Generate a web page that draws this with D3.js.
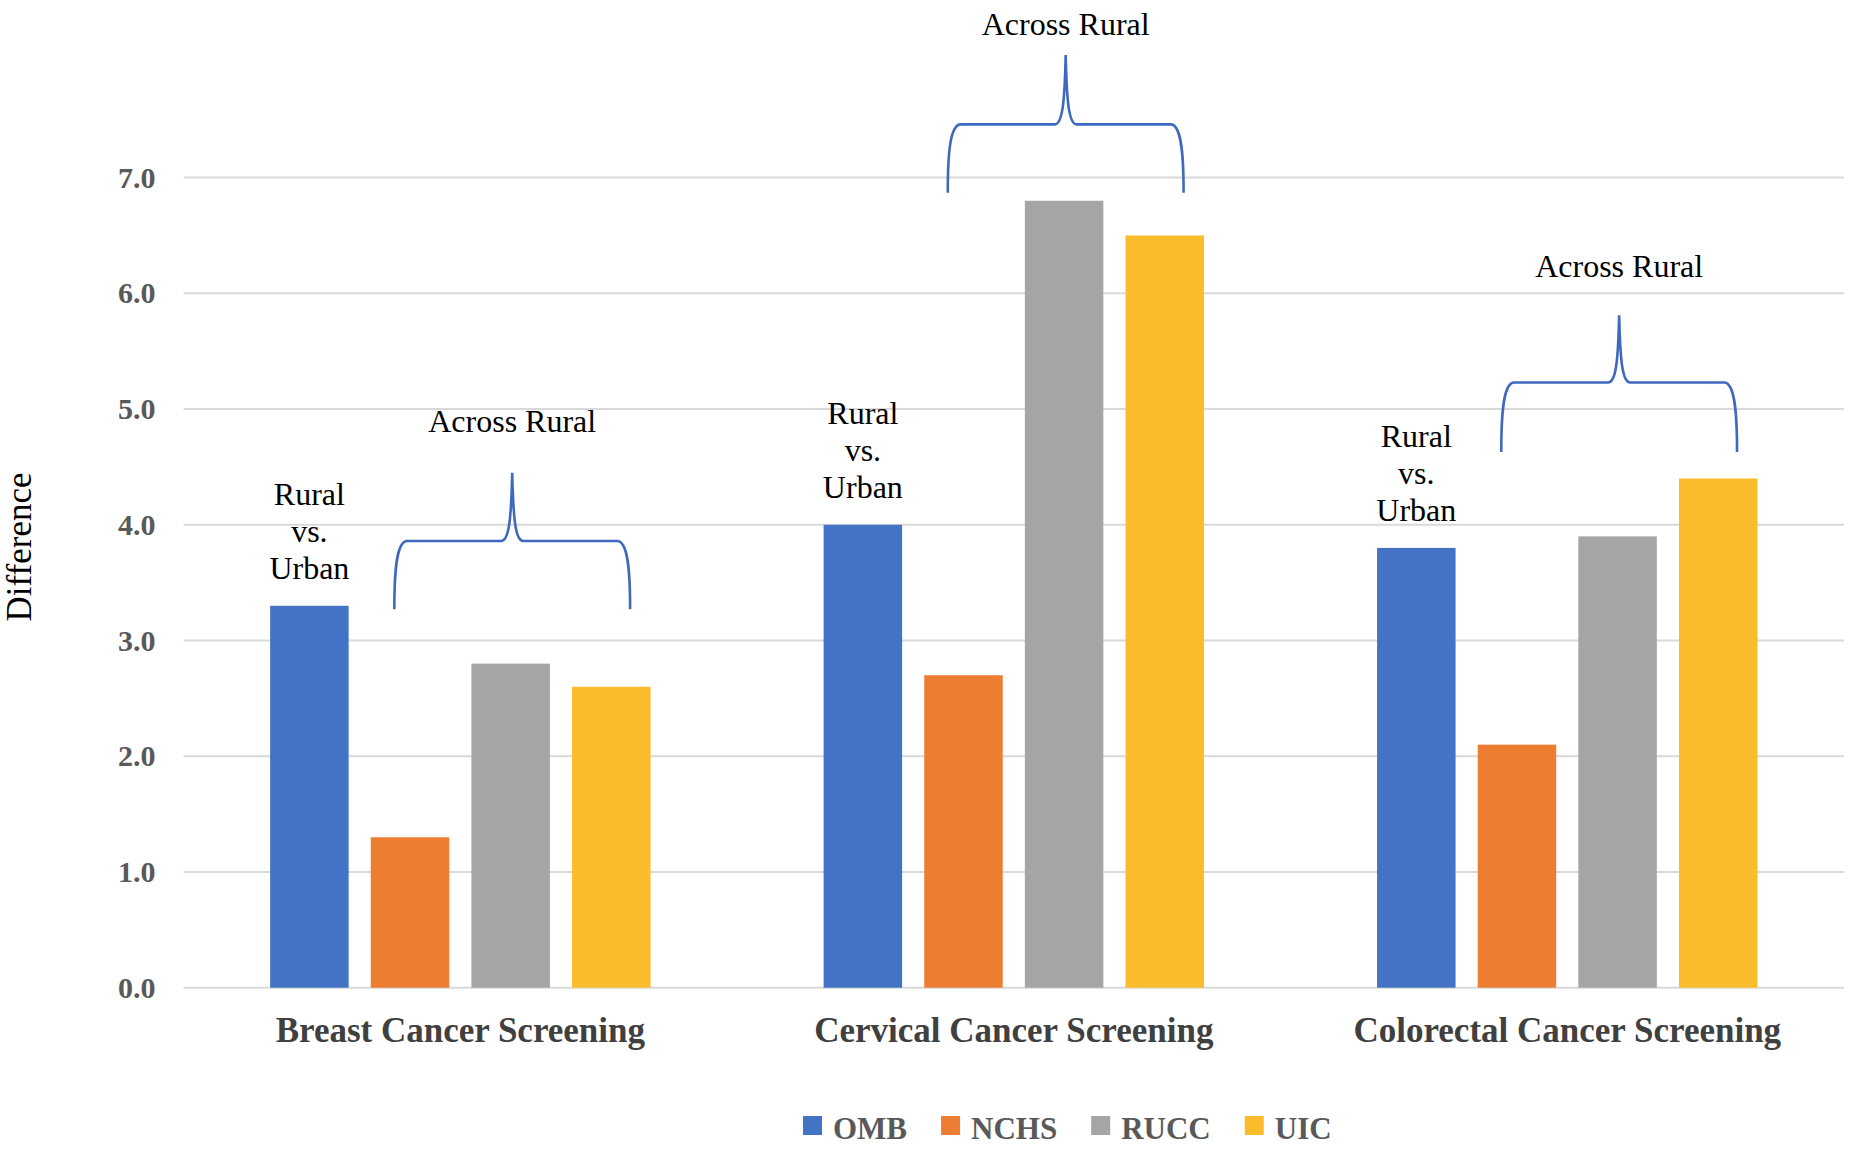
<!DOCTYPE html>
<html>
<head>
<meta charset="utf-8">
<script src="https://cdn.jsdelivr.net/npm/d3@7"></script>
<style>
  html, body { margin: 0; padding: 0; background: #ffffff; }
  svg { display: block; }
</style>
</head>
<body>
<svg id="chart" width="1857" height="1161"></svg>
<script>
// ---------- data ----------
const categories = ["Breast Cancer Screening", "Cervical Cancer Screening", "Colorectal Cancer Screening"];
const seriesNames = ["OMB", "NCHS", "RUCC", "UIC"];
const OMB  = [3.3, 4.0, 3.8];
const NCHS = [1.3, 2.7, 2.1];
const RUCC = [2.8, 6.8, 3.9];
const UIC  = [2.6, 6.5, 4.4];
const yTicks = [0, 1, 2, 3, 4, 5, 6, 7];
const yTitle = "Difference";
const ruralUrbanLines = ["Rural", "vs.", "Urban"];
const acrossLabel = "Across Rural";
// brace annotation levels (in data units): foot, shoulder, tip, label baseline
const braceFoot     = [3.27, 6.87, 4.63];
const braceShoulder = [3.86, 7.46, 5.23];
const braceTip      = [4.45, 8.06, 5.81];
const braceLabel    = [4.80, 8.23, 6.14];

const seriesValues = { OMB, NCHS, RUCC, UIC };
const colors = { OMB: "#4472C4", NCHS: "#ED7D31", RUCC: "#A5A5A5", UIC: "#FBBC2C" };

// ---------- layout ----------
const W = 1857, H = 1161;
const plot = { left: 183.6, right: 1844, top: 177.6, bottom: 987.7 };
const svg = d3.select("#chart");

const x0 = d3.scaleBand().domain(categories).range([plot.left, plot.right]).padding(0);
const x1 = d3.scaleBand().domain(seriesNames).range([0, x0.bandwidth()])
  .paddingInner(0.22).paddingOuter(0.86);
const y = d3.scaleLinear().domain([0, 7]).range([plot.bottom, plot.top]);

// gridlines
svg.append("g").selectAll("line").data(yTicks).join("line")
  .attr("x1", plot.left).attr("x2", plot.right)
  .attr("y1", d => y(d)).attr("y2", d => y(d))
  .attr("stroke", "#D9D9D9").attr("stroke-width", 2);

// y axis labels
const yAxis = d3.axisLeft(y).tickValues(yTicks).tickSize(0).tickPadding(28)
  .tickFormat(d3.format(".1f"));
const gy = svg.append("g").attr("transform", `translate(${plot.left},0)`).call(yAxis);
gy.select(".domain").remove();
gy.selectAll("text")
  .attr("font-family", "'Liberation Serif', serif").attr("font-weight", "bold")
  .attr("font-size", 30).attr("fill", "#595959");

// y title
svg.append("text")
  .attr("transform", `translate(31,547) rotate(-90)`)
  .attr("text-anchor", "middle")
  .attr("font-family", "'Liberation Serif', serif").attr("font-size", 35)
  .attr("fill", "#000").text(yTitle);

// bars
const groups = svg.append("g").selectAll("g").data(categories).join("g")
  .attr("transform", d => `translate(${x0(d)},0)`);
groups.selectAll("rect")
  .data((c, i) => seriesNames.map(s => ({ s, v: seriesValues[s][i] })))
  .join("rect")
  .attr("x", d => x1(d.s)).attr("width", x1.bandwidth())
  .attr("y", d => y(d.v)).attr("height", d => y(0) - y(d.v))
  .attr("fill", d => colors[d.s]);

// x axis labels
const xAxis = d3.axisBottom(x0).tickSize(0).tickPadding(29.5);
const gx = svg.append("g").attr("transform", `translate(0,${plot.bottom})`).call(xAxis);
gx.select(".domain").remove();
gx.selectAll("text")
  .attr("font-family", "'Liberation Serif', serif").attr("font-weight", "bold")
  .attr("font-size", 35).attr("fill", "#404040");

// Rural vs. Urban annotations
const annFont = "'Liberation Serif', serif";
categories.forEach((c, i) => {
  const cx = x0(c) + x1("OMB") + x1.bandwidth() / 2;
  const baseY = y(OMB[i]) - 27;
  const t = svg.append("text").attr("text-anchor", "middle")
    .attr("font-family", annFont).attr("font-size", 32).attr("fill", "#000");
  ruralUrbanLines.forEach((ln, k) => {
    t.append("tspan").attr("x", cx)
      .attr("y", baseY - (ruralUrbanLines.length - 1 - k) * 37).text(ln);
  });
});

// braces + Across Rural
categories.forEach((c, i) => {
  const xl = x0(c) + x1("NCHS") + 0.3 * x1.bandwidth();
  const xr = x0(c) + x1("UIC") + 0.74 * x1.bandwidth();
  const xm = (xl + xr) / 2;
  const yb = y(braceFoot[i]), yh = y(braceShoulder[i]), yt = y(braceTip[i]);
  const dv = yb - yh, dt = yh - yt;
  const p = d3.path();
  p.moveTo(xl, yb);
  p.bezierCurveTo(xl, yb - dv * 0.55, xl + 2, yh, xl + 13, yh);
  p.lineTo(xm - 11, yh);
  p.bezierCurveTo(xm - 3, yh, xm - 1, yh - dt * 0.35, xm, yt);
  p.bezierCurveTo(xm + 1, yh - dt * 0.35, xm + 3, yh, xm + 11, yh);
  p.lineTo(xr - 13, yh);
  p.bezierCurveTo(xr - 2, yh, xr, yb - dv * 0.55, xr, yb);
  svg.append("path").attr("d", p.toString())
    .attr("fill", "none").attr("stroke", "#3E69BE").attr("stroke-width", 2.6);
  svg.append("text").attr("x", xm).attr("y", y(braceLabel[i]))
    .attr("text-anchor", "middle").attr("font-family", annFont)
    .attr("font-size", 32).attr("fill", "#000").text(acrossLabel);
});

// legend
const legend = svg.append("g").attr("transform", "translate(803,0)");
let lx = 0;
seriesNames.forEach(s => {
  const g = legend.append("g").attr("transform", `translate(${lx},0)`);
  g.append("rect").attr("x", 0).attr("y", 1116).attr("width", 19).attr("height", 19)
    .attr("fill", colors[s]);
  const t = g.append("text").attr("x", 30).attr("y", 1138.5)
    .attr("font-family", "'Liberation Serif', serif").attr("font-weight", "bold")
    .attr("font-size", 31).attr("fill", "#595959").text(s);
  lx += 30 + t.node().getComputedTextLength() + 34;
});
</script>
</body>
</html>
